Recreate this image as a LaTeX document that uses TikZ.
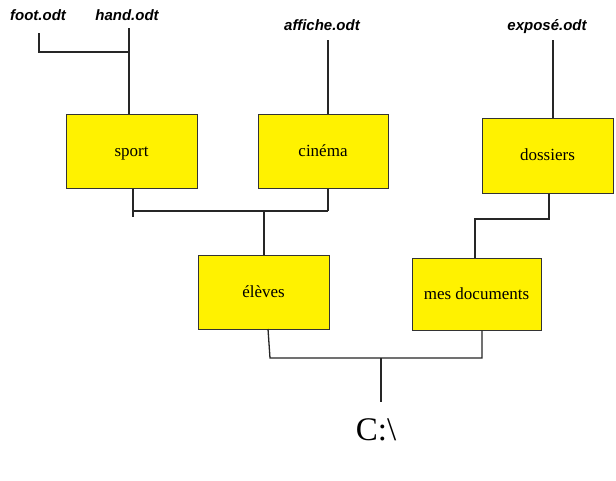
\documentclass[tikz,border=0pt]{standalone}
\usepackage{fontspec}
\setmainfont{Liberation Serif}
\newfontfamily\filefont{Liberation Sans}
\begin{document}
\begin{tikzpicture}[x=1pt,y=-1pt,
  folder/.style={draw=black!80,fill=yellow,line width=1pt,inner sep=0pt,
    text height=13pt,text depth=3pt,
    font=\fontsize{17}{20}\selectfont},
  file/.style={font=\filefont\bfseries\itshape\fontsize{15}{18}\selectfont,inner sep=0pt},
  link/.style={draw=black!85,line width=1.3pt}]
\useasboundingbox[fill=white] (0,0) rectangle (616,480);
% folders
\node[folder,minimum width=131pt,minimum height=74pt] (sport) at (131.5,151) {sport};
\node[folder,minimum width=130pt,minimum height=74pt] (cinema) at (323,151) {cinéma};
\node[folder,minimum width=131pt,minimum height=75pt] (dossiers) at (547.5,155.5) {dossiers};
\node[folder,minimum width=131pt,minimum height=74pt] (eleves) at (263.5,292) {élèves};
\node[folder,minimum width=129pt,minimum height=72pt] (mesdoc) at (476.5,294) {mes documents};
% files
\node[file] (foot) at (38,15) {foot.odt};
\node[file] (hand) at (127,15) {hand.odt};
\node[file] (affiche) at (322,25) {affiche.odt};
\node[file] (expose) at (547,27) {exposé.odt};
\node[inner sep=0pt,font=\fontsize{33}{36}\selectfont] (root) at (376,430) {C:\textbackslash};
% coordinates
\coordinate (ftop) at (39,33);
\coordinate (htop) at (129,28);
\coordinate (hj) at (129,52);
\coordinate (atop) at (328,40);
\coordinate (etop) at (553,40);
\coordinate (sb) at (133,217);
\coordinate (sj) at (133,211);
\coordinate (cj) at (328,211);
\coordinate (ej) at (264,211);
\coordinate (dj) at (549,219);
\coordinate (mj) at (475,219);
\coordinate (ebj) at (270,358);
\coordinate (mbj) at (482,358);
\coordinate (rj) at (381,358);
\coordinate (rb) at (381,402);
% connectors
\draw[link] (ftop) |- (hj);
\draw[link] (htop) -- (htop |- sport.north);
\draw[link] (atop) -- (atop |- cinema.north);
\draw[link] (etop) -- (etop |- dossiers.north);
\draw[link] (sj |- sport.south) -- (sb);
\draw[link] (sj) -- (cj);
\draw[link] (cj |- cinema.south) -- (cj);
\draw[link] (ej) -- (ej |- eleves.north);
\draw[link] (dj |- dossiers.south) -- (dj) -- (mj) -- (mj |- mesdoc.north);
\draw[link] (268,329) -- (ebj) -- (mbj) -- (mbj |- mesdoc.south);
\draw[link] (rj) -- (rb);
\end{tikzpicture}
\end{document}
